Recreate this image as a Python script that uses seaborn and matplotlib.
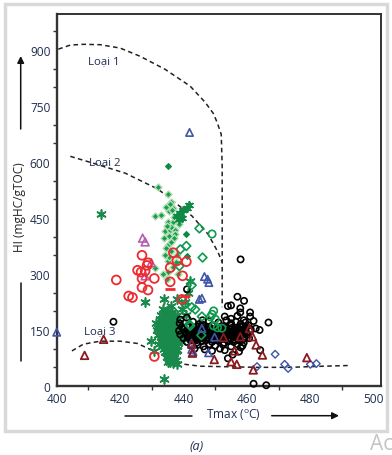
import matplotlib
matplotlib.use("Agg")
import matplotlib.pyplot as plt
from matplotlib.lines import Line2D
from matplotlib.patches import Rectangle
import seaborn as sns

# dashed type boundaries
type1_x = [400.5, 404.3, 408.4, 413.7, 420, 426.3, 434.2, 442.1, 446.8, 449.4, 450.6, 451.9, 452.2, 452.2, 452.2]
type1_y = [902, 913, 915, 914, 905, 883, 848, 803, 760, 730, 706, 674, 588, 366, 211]
type2_x = [404.3, 413.7, 421.6, 432, 442.7, 447.8, 450.9, 452.2]
type2_y = [615, 591, 570, 527, 455, 406, 358, 331]
type3_x = [404.8, 408.4, 413.7, 420, 425.4, 429.5, 432.7, 435.9, 440.5, 445.3, 463.2, 473.6, 484, 492.6]
type3_y = [94, 112, 120, 120, 114, 98, 85, 71, 58, 53, 50, 50, 53, 55]

# samples
leaf_x = [431.8, 435, 436, 436.8, 435.3, 430.9, 432.9, 435.1, 436.8, 438.7, 434.2, 435.8, 437.4, 435.3, 437.2, 435, 436, 435.1, 437.6, 431.1, 434.8, 434.5, 436.2, 433.8, 437.8, 435.5,
          435.6, 436.4, 434.9, 437, 435.9, 434.4, 436.6, 435.2, 433.6, 438.2, 434.1, 436.9]
leaf_y = [533, 515, 494, 476, 469, 454, 458, 438, 438, 433, 415, 417, 417, 402, 406, 377, 362, 335, 333, 315, 286, 480, 425, 395, 350, 345,
          488, 470, 428, 396, 385, 370, 320, 305, 300, 300, 352, 452]
dark_star_x = [438, 439, 439.9, 441, 441.8, 438.5, 439.5]
dark_star_y = [454, 462, 470, 478, 486, 447, 450]
dark_dia_x = [435, 440.9, 441.1]
dark_dia_y = [588, 406, 348]

star_x = [414, 433.7, 427.7, 438, 435.1, 429.8, 430.8, 433.7, 437.9, 442.1, 431.5, 436, 439.5, 440.5, 434.5,
          433, 434, 435, 436, 437, 438, 433.5, 434.5, 435.5, 436.5, 437.5, 438.5, 432.5, 433.3, 434.2,
          435.2, 436.2, 437.2, 438.2, 432, 433, 434, 435, 436, 437, 438, 439, 432.8, 433.8, 434.8,
          435.8, 436.8, 437.8, 438.8, 433, 434, 435, 436, 437, 438, 439, 433.4, 434.4, 435.4, 436.4,
          437.4, 438.4, 433.8, 434.8, 435.8, 436.8, 437.8, 434, 435, 436, 437, 438, 434.5, 435.5, 436.5,
          437.5, 435, 436, 437, 435.5, 436.5, 437.5, 433.2, 434.2, 435.7, 436.7, 431.8, 432.3, 439.3, 440,
          433.5, 435, 436.5, 438, 432.6, 437, 434.7, 431.2, 440.8, 441.5]
star_y = [460, 18, 225, 58, 65, 120, 94, 232, 232, 281, 150, 215, 205, 225, 195,
          190, 192, 188, 194, 186, 180, 178, 180, 176, 182, 172, 168, 165, 168, 170,
          166, 172, 164, 160, 155, 156, 158, 154, 160, 152, 150, 158, 144, 146, 142, 148,
          140, 144, 138, 132, 134, 130, 136, 128, 132, 126, 122, 120, 124, 118, 122, 116,
          110, 112, 108, 114, 106, 100, 102, 98, 104, 96, 90, 92, 88, 94, 82, 84, 80,
          72, 74, 70, 128, 92, 64, 62, 136, 112, 120, 135, 205, 200, 198, 190, 180, 75, 78, 170, 190, 250]

black_x = [417.9, 441.1, 458, 462.1, 466.1, 466.8, 457, 459.1, 454, 455, 457.9, 457.9, 461, 461, 462.1, 462.8, 464, 464.2, 454, 458.1,
           439, 441, 446, 453, 455, 457, 459, 438.8, 443, 445, 448, 451, 453.5, 455, 456.5, 458, 459.5,
           439.5, 441.5, 443, 444.5, 446, 447.5, 449, 450.5, 452, 453.5, 455, 456.5, 458, 459.5, 460.5,
           438.6, 440.3, 442, 443.6, 445.2, 446.8, 448.4, 450, 451.6, 453.2, 454.8, 456.4, 458, 459.6, 461.2,
           439, 440.8, 442.5, 444, 445.7, 447.2, 448.9, 450.5, 452.2, 453.8, 455.4, 457, 458.6, 460.2,
           440, 441.7, 443.3, 444.9, 446.5, 448, 449.7, 451.3, 452.9, 454.5, 456.1, 457.7, 459.3, 460.7,
           441, 442.6, 444.2, 445.8, 447.4, 449, 450.6, 452.8, 454.2, 455.8, 457.4, 459,
           442.4, 444.5, 446.3, 448.2, 450, 452.5, 455, 457, 458.6, 446.7, 449, 453, 457.5, 443.5, 451.5, 455.5,
           440.2, 441.3, 442.4, 443.4, 444.4, 445.4, 446.4, 447.4, 448.4, 449.4, 450.4, 451.4, 452.4, 453.4, 454.4, 455.4, 456.4, 457.4, 458.4, 459.4,
           440.6, 441.6, 442.8, 443.8, 444.8, 445.8, 446.8, 447.8, 448.8, 449.8, 450.8, 451.8, 452.8, 453.8, 454.8, 455.8, 456.8, 457.8, 458.8, 459.8,
           441.2, 442.2, 443.2, 444.2, 445.2, 446.2, 447.2, 448.2, 449.2, 450.2, 451.2, 452.2, 453.2, 454.2, 455.2, 456.2, 457.2, 458.2, 459.2,
           442, 443, 444, 445, 446, 447, 448, 449, 450, 451, 452, 453, 454, 455, 456, 457, 458, 459]
black_y = [172, 259, 339, 6, 2, 170, 239, 228, 214, 216, 208, 197, 197, 186, 174, 154, 150, 96, 74, 103,
           178, 183, 176, 186, 180, 188, 176, 168, 172, 166, 174, 170, 176, 168, 172, 166, 170,
           158, 162, 156, 160, 164, 158, 162, 156, 160, 158, 162, 156, 160, 158, 162,
           148, 152, 146, 150, 154, 148, 152, 146, 150, 148, 152, 146, 150, 148, 152,
           138, 142, 136, 140, 144, 138, 142, 136, 140, 138, 142, 136, 140, 138,
           128, 132, 126, 130, 134, 128, 132, 126, 130, 128, 132, 126, 130, 128,
           118, 122, 116, 120, 124, 118, 122, 116, 120, 118, 122, 116,
           108, 110, 106, 112, 108, 110, 106, 112, 108, 98, 94, 96, 92, 100, 100, 84,
           153, 157, 150, 154, 158, 151, 155, 152, 156, 150, 154, 157, 151, 155, 152, 156, 150, 154, 158, 152,
           143, 146, 141, 145, 148, 142, 146, 143, 147, 141, 145, 148, 142, 146, 143, 147, 141, 145, 148, 142,
           133, 136, 131, 135, 138, 132, 136, 133, 137, 131, 135, 138, 132, 136, 133, 137, 131, 135, 138,
           124, 127, 122, 126, 128, 123, 127, 124, 128, 122, 126, 128, 123, 127, 124, 128, 122, 126]

green_dia_x = [445, 440.9, 446, 439, 438.7, 442.6, 443.7, 442.6, 445.8, 442.1, 445.6, 440.5, 441.9]
green_dia_y = [422, 375, 344, 366, 321, 270, 205, 211, 186, 161, 136, 219, 165]
green_circ_x = [449, 449.5, 449, 450, 450.7, 452.1, 449.5, 448.5]
green_circ_y = [407, 201, 192, 179, 156, 155, 161, 185]

blue_tri_x = [441.9, 400, 446.6, 447.6, 448, 445.8, 445.8, 449.8, 447.9, 442.6, 445, 442.5, 443]
blue_tri_y = [679, 144, 293, 286, 277, 235, 154, 131, 89, 98, 232, 115, 92]
blue_dia_x = [468.9, 471.9, 473, 480, 481.9, 463.2]
blue_dia_y = [85, 58, 47, 58, 60, 52]

redtri_x = [414.8, 408.8, 442.6, 442.8, 449.7, 452.6, 457.9, 460.8, 461.8, 462.9, 464.9, 456.1, 455, 456.8, 462, 478.9]
redtri_y = [125, 82, 112, 88, 71, 130, 132, 154, 132, 110, 83, 94, 65, 58, 43, 76]
red_x = [418.8, 422.7, 423.9, 426.9, 425.5, 426.6, 427.9, 426.9, 426.9, 428.8, 428.5, 428.8, 430.8, 430.8, 435.8, 435.8, 437.9, 436.8, 440.9, 439.7, 439.5]
red_y = [284, 241, 237, 350, 310, 305, 308, 288, 264, 257, 323, 330, 288, 79, 317, 279, 335, 357, 333, 295, 232]
dash_x = [435.8, 440.5]
dash_y = [259, 241]
purple_x = [427.1, 427.9, 429.8, 427.9]
purple_y = [396, 386, 330, 295]

xticks = [400, 420, 440, 460, 480, 500]
yticks = [0, 150, 300, 450, 600, 750, 900]

TEXT = "#1e2f50"
W, H = 392, 456

sns.set_style("white")
plt.rcParams["font.family"] = ["Open Sans", "DejaVu Sans"]
plt.rcParams["mathtext.default"] = "regular"

fig = plt.figure(figsize=(W / 100, H / 100), dpi=100, facecolor="white")
ax = fig.add_axes([56.7 / W, 1 - 387 / H, (380.7 - 56.7) / W, (387 - 14.7) / H])


def curve(xs, ys):
    sns.lineplot(x=xs, y=ys, sort=False, estimator=None, color="#222222", lw=1.1,
                 linestyle=(0, (3, 2.2)), ax=ax, zorder=2)


def dots(xs, ys, marker, size, color, lw=1.2, zorder=3):
    pts = sns.scatterplot(x=xs, y=ys, marker=marker, s=size, color=color, ax=ax,
                          linewidth=lw, zorder=zorder, clip_on=False)
    coll = pts.collections[-1]
    coll.set_facecolor("none")
    coll.set_edgecolor(color)


curve(type1_x, type1_y)
curve(type2_x, type2_y)
curve(type3_x, type3_y)

# filled green points with pale halo
sns.scatterplot(x=leaf_x, y=leaf_y, marker="D", s=13, color="#14a04e", edgecolor="#b5dcb4", linewidth=1.0, ax=ax, zorder=3)
sns.scatterplot(x=dark_dia_x, y=dark_dia_y, marker="D", s=9, color="#0f8a45", edgecolor="#0f8a45", linewidth=0.8, ax=ax, zorder=3)
sns.scatterplot(x=star_x, y=star_y, marker=(6, 2, 0), s=42, color="#198a4c", linewidth=1.2, ax=ax, zorder=3)
sns.scatterplot(x=dark_star_x, y=dark_star_y, marker=(6, 2, 0), s=28, color="#0f8a45", linewidth=1.3, ax=ax, zorder=3)

dots(black_x, black_y, "o", 20, "black", lw=1.2, zorder=4)
dots(green_dia_x, green_dia_y, "D", 20, "#0f9a50", zorder=5)
dots(green_circ_x, green_circ_y, "o", 28, "#0f9a50", zorder=5)
dots(blue_tri_x, blue_tri_y, "^", 28, "#3f55a5", zorder=6)
dots(blue_dia_x, blue_dia_y, "D", 15, "#3f55a5", lw=1.0, zorder=6)
dots(redtri_x, redtri_y, "^", 30, "#8a1a20", lw=1.3, zorder=6)
dots(red_x, red_y, "o", 40, "#ee2a2e", lw=1.3, zorder=6)
dots(purple_x, purple_y, "^", 32, "#b560ac", zorder=5)
sns.scatterplot(x=dash_x, y=dash_y, marker="_", s=60, color="#ee2a2e", linewidth=2, ax=ax, zorder=6)

ax.set_xlim(400, 502.2)
ax.set_ylim(0, 997)
ax.set_xticks(xticks)
ax.set_yticks(yticks)
ax.set_xticks(range(410, 500, 20), minor=True)
ax.set_yticks([50, 100, 200, 250, 350, 400, 500, 550, 650, 700, 800, 850, 950], minor=True)
ax.tick_params(axis="both", which="major", direction="inout", length=6, width=1.1, color="#333333",
               labelsize=8.6, labelcolor=TEXT, pad=1.5)
ax.tick_params(axis="both", which="minor", direction="out", length=3, width=1, color="#333333", bottom=True, left=True)
ax.grid(False)
for name, sp in ax.spines.items():
    sp.set_color("#333333")
    sp.set_linewidth(1.4)
ax.spines["left"].set_linewidth(1.7)
ax.spines["bottom"].set_linewidth(1.7)

fig.text(104 / W, 1 - 62 / H, "Loại 1", fontsize=8.2, color=TEXT, ha="center", va="center")
fig.text(105 / W, 1 - 163 / H, "Loại 2", fontsize=8.2, color=TEXT, ha="center", va="center")
fig.text(100 / W, 1 - 332 / H, "Loại 3", fontsize=8.2, color=TEXT, ha="center", va="center")
fig.text(20 / W, 1 - 207 / H, "HI (mgHC/gTOC)", fontsize=8.6, color="#222222", rotation=90, ha="center", va="center")
fig.text(233 / W, 1 - 415 / H, "Tmax ($^{o}$C)", fontsize=8.6, color=TEXT, ha="center", va="center")
fig.text(197 / W, 1 - 447 / H, "(a)", fontsize=9, style="italic", color=TEXT, ha="center", va="center")
fig.text(370 / W, 1 - 445 / H, "Ac", fontsize=15, color="#c4c4c4", ha="left", va="center")

# arrows beside the axis titles
fig.add_artist(Line2D([20.7 / W, 20.7 / W], [1 - 284 / H, 1 - 362 / H], color="#111111", lw=1.1))
fig.add_artist(Line2D([125 / W, 192 / W], [1 - 416.7 / H, 1 - 416.7 / H], color="#111111", lw=1.1))
ax.annotate("", xy=(20.7 / W, 1 - 57 / H), xytext=(20.7 / W, 1 - 130 / H), xycoords="figure fraction",
            textcoords="figure fraction", arrowprops=dict(arrowstyle="-|>", color="#111111", lw=1.1, shrinkA=0, shrinkB=0))
ax.annotate("", xy=(339 / W, 1 - 416.7 / H), xytext=(271.7 / W, 1 - 416.7 / H), xycoords="figure fraction",
            textcoords="figure fraction", arrowprops=dict(arrowstyle="-|>", color="#111111", lw=1.1, shrinkA=0, shrinkB=0))

# pale frame around the panel
fig.add_artist(Rectangle((4.8 / W, 1 - 431.5 / H), (387 - 4.8) / W, (431.5 - 5) / H, fill=False,
                         edgecolor="#d9d9d9", lw=2.5, transform=fig.transFigure))

fig.savefig("out.png", dpi=100)
